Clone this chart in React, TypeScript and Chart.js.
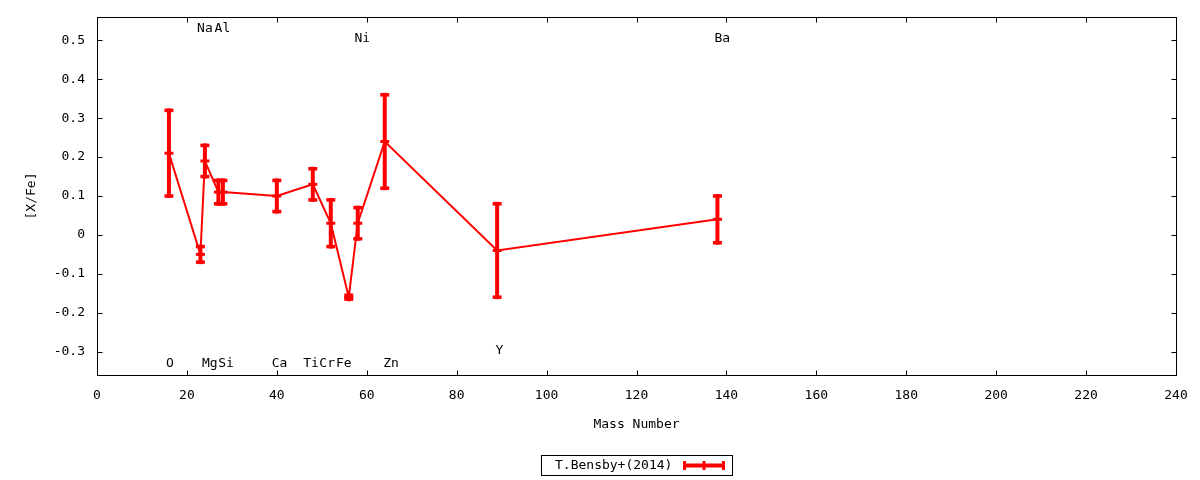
import { useEffect, useRef } from "react";
import { Chart, registerables } from "chart.js";

Chart.register(...registerables);

// ---- data ----
const elements = ["O", "Na", "Mg", "Al", "Si", "Ca", "Ti", "Cr", "Fe", "Ni", "Zn", "Y", "Ba"];
const massNumbers = [16, 23, 24, 27, 28, 40, 48, 52, 56, 58, 64, 89, 138];
const xFeValues = [0.21, -0.05, 0.19, 0.11, 0.11, 0.10, 0.13, 0.03, -0.16, 0.03, 0.24, -0.04, 0.04];
const xFeErrors = [0.11, 0.02, 0.04, 0.03, 0.03, 0.04, 0.04, 0.06, 0.005, 0.04, 0.12, 0.12, 0.06];
// element name annotations (data coordinates)
const labelMass = [16.2, 24.0, 25.1, 27.9, 28.7, 40.6, 47.6, 51.2, 54.9, 59.0, 65.4, 89.5, 139.1];
const labelValue = [-0.332, 0.531, -0.332, 0.531, -0.332, -0.332, -0.332, -0.332, -0.332, 0.505, -0.332, -0.297, 0.505];
const yTickValues = [-0.3, -0.2, -0.1, 0, 0.1, 0.2, 0.3, 0.4, 0.5];
const yTickLabels = ["-0.3", "-0.2", "-0.1", "0", "0.1", "0.2", "0.3", "0.4", "0.5"];
const seriesLabel = "T.Bensby+(2014)";

const FONT = "'DejaVu Sans Mono', monospace";
const RED = "#ff0000";

export default function App() {
  const ref = useRef<HTMLCanvasElement>(null);

  useEffect(() => {
    document.body.style.margin = "0";
    const canvas = ref.current;
    if (!canvas) return;

    const seg = (ctx: CanvasRenderingContext2D, x1: number, y1: number, x2: number, y2: number) => {
      ctx.beginPath();
      ctx.moveTo(x1, y1);
      ctx.lineTo(x2, y2);
      ctx.stroke();
    };

    const gnuplotPlugin = {
      id: "gnuplotLook",
      afterDatasetsDraw(chart: any) {
        const ctx: CanvasRenderingContext2D = chart.ctx;
        const xs = chart.scales.x;
        const ys = chart.scales.y;
        ctx.save();
        ctx.strokeStyle = RED;
        ctx.lineCap = "butt";
        massNumbers.forEach((m, i) => {
          const px = xs.getPixelForValue(m);
          const pc = ys.getPixelForValue(xFeValues[i]);
          const pt = ys.getPixelForValue(xFeValues[i] + xFeErrors[i]);
          const pb = ys.getPixelForValue(xFeValues[i] - xFeErrors[i]);
          ctx.lineWidth = 4;
          seg(ctx, px, pt - 2, px, pb + 2);
          ctx.lineWidth = 3.5;
          seg(ctx, px - 4.5, pt, px + 4.5, pt);
          seg(ctx, px - 4.5, pb, px + 4.5, pb);
          ctx.lineWidth = 3;
          seg(ctx, px - 4.5, pc, px + 4.5, pc);
        });
        ctx.restore();
      },
      afterDraw(chart: any) {
        const ctx: CanvasRenderingContext2D = chart.ctx;
        const { left, right, top, bottom } = chart.chartArea;
        const xs = chart.scales.x;
        const ys = chart.scales.y;
        ctx.save();
        // frame
        ctx.strokeStyle = "#000";
        ctx.lineWidth = 1;
        const L = Math.round(left) + 0.5;
        const R = Math.round(right) + 0.5;
        const T = Math.round(top) + 0.5;
        const B = Math.round(bottom) + 0.5;
        ctx.strokeRect(L, T, R - L, B - T);
        // inward ticks, mirrored
        const tl = 5;
        xs.ticks.forEach((t: any) => {
          const p = Math.round(xs.getPixelForValue(t.value)) + 0.5;
          seg(ctx, p, B, p, B - tl);
          seg(ctx, p, T, p, T + tl);
        });
        ys.ticks.forEach((t: any) => {
          const p = Math.round(ys.getPixelForValue(t.value)) + 0.5;
          seg(ctx, L, p, L + tl, p);
          seg(ctx, R, p, R - tl, p);
        });
        // element labels
        ctx.fillStyle = "#000";
        ctx.font = `13px ${FONT}`;
        ctx.textAlign = "center";
        ctx.textBaseline = "middle";
        elements.forEach((el, i) => {
          ctx.fillText(el, xs.getPixelForValue(labelMass[i]), ys.getPixelForValue(labelValue[i]));
        });
        // key box
        ctx.strokeStyle = "#000";
        ctx.lineWidth = 1;
        ctx.strokeRect(541.5, 455.5, 191, 20);
        ctx.textAlign = "left";
        ctx.fillText(seriesLabel, 555, 466);
        ctx.strokeStyle = RED;
        ctx.lineWidth = 4;
        seg(ctx, 683, 465.5, 725, 465.5);
        ctx.lineWidth = 3;
        seg(ctx, 684.5, 461, 684.5, 470);
        seg(ctx, 723.5, 461, 723.5, 470);
        seg(ctx, 704, 461, 704, 470);
        ctx.restore();
      },
    };

    const tickFont = { family: FONT, size: 13 };

    const chart = new Chart(canvas, {
      type: "scatter",
      data: {
        datasets: [
          {
            label: seriesLabel,
            data: massNumbers.map((m, i) => ({ x: m, y: xFeValues[i] })),
            showLine: true,
            borderColor: RED,
            backgroundColor: RED,
            borderWidth: 2,
            pointRadius: 0,
            pointHoverRadius: 0,
            tension: 0,
          },
        ],
      },
      options: {
        animation: false,
        responsive: false,
        devicePixelRatio: 1,
        layout: { padding: { left: 0, top: 17, right: 24, bottom: 0 } },
        plugins: {
          legend: { display: false },
          tooltip: { enabled: false },
        },
        scales: {
          x: {
            type: "linear",
            position: "bottom",
            min: 0,
            max: 240,
            grid: { display: false, drawTicks: false },
            border: { display: false },
            ticks: {
              stepSize: 20,
              padding: 13,
              color: "#000",
              font: tickFont,
              maxRotation: 0,
              autoSkip: false,
            },
            title: {
              display: true,
              text: "Mass Number",
              color: "#000",
              font: tickFont,
              padding: { top: 0, bottom: 48 },
            },
            afterFit: (s: any) => {
              s.height = 105;
              s.paddingLeft = 0;
              s.paddingRight = 0;
            },
          },
          y: {
            type: "linear",
            position: "left",
            min: -0.36,
            max: 0.56,
            grid: { display: false, drawTicks: false },
            border: { display: false },
            afterBuildTicks: (s: any) => {
              s.ticks = yTickValues.map((v) => ({ value: v }));
            },
            ticks: {
              padding: 12,
              color: "#000",
              font: tickFont,
              autoSkip: false,
              callback: (_v: any, i: number) => yTickLabels[i],
            },
            title: {
              display: true,
              text: "[X/Fe]",
              color: "#000",
              font: tickFont,
              padding: { top: 24, bottom: 0 },
            },
            afterFit: (s: any) => {
              s.width = 97;
              s.paddingTop = 0;
              s.paddingBottom = 0;
            },
          },
        },
      },
      plugins: [gnuplotPlugin],
    } as any);

    return () => chart.destroy();
  }, []);

  return (
    <div style={{ width: 1200, height: 480 }}>
      <canvas ref={ref} width={1200} height={480} style={{ display: "block" }} />
    </div>
  );
}
